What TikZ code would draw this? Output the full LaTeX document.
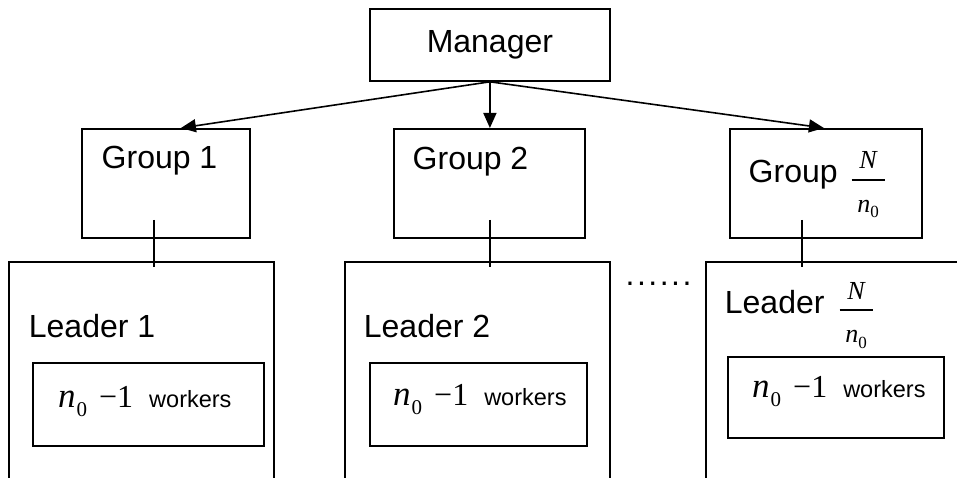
\documentclass[tikz,border=0pt]{standalone}
\usepackage{fontspec}
\setmainfont{Liberation Sans}
\newfontfamily\tms{Liberation Serif}
\usetikzlibrary{arrows.meta}

% N over n_0, set as a stacked fraction in Times-like type
\newcommand{\Nover}{%
  {\tms\fontsize{26}{26}\selectfont
   \rlap{\raisebox{14pt}{\makebox[33pt]{\itshape N}}}%
   \rlap{\rule[2.3pt]{33pt}{1.4pt}}%
   \raisebox{-29pt}{\makebox[33pt]{\itshape n\raisebox{-6pt}{\upshape\fontsize{17}{17}\selectfont 0}}}}}

% n_0 - 1
\newcommand{\nmone}{%
  {\tms\fontsize{32}{32}\selectfont{\fontsize{35}{35}\selectfont\itshape n}\hspace{1pt}\raisebox{-9pt}{\fontsize{21}{21}\selectfont 0}\hspace{12pt}−1}}

\newcommand{\wlabel}{\nmone\hspace{16pt}{\fontsize{23.5}{28}\selectfont workers}}

\begin{document}
\begin{tikzpicture}[x=1pt,y=-1pt,
  frame/.style={draw, line width=1.8pt, inner sep=0pt, anchor=north west},
  lbl/.style={inner sep=0pt, anchor=base west, font=\fontsize{32}{38}\selectfont},
  wrk/.style={inner sep=0pt, anchor=base west},
  arr/.style={line width=1.6pt, -{Triangle[length=15pt,width=13pt]}},
  link/.style={line width=1.6pt}]
\useasboundingbox (0,0) rectangle (957,478);
\clip (0,0) rectangle (957,478);

% top level
\node[frame, minimum width=240pt, minimum height=72pt,
      font=\fontsize{32}{38}\selectfont] (mgr) at (369,8) {Manager};

% groups
\node[frame, minimum width=168pt, minimum height=109pt] (g1) at (81,128) {};
\node[frame, minimum width=191pt, minimum height=109pt] (g2) at (393,128) {};
\node[frame, minimum width=192pt, minimum height=109pt] (g3) at (729,128) {};

% leader frames (open towards the bottom edge)
\node[frame, minimum width=265pt, minimum height=240pt] (l1) at (8,261) {};
\node[frame, minimum width=265pt, minimum height=240pt] (l2) at (344,261) {};
\node[frame, minimum width=270pt, minimum height=240pt] (l3) at (705,261) {};

% worker boxes
\node[frame, minimum width=231pt, minimum height=83pt] (w1) at (32,362) {};
\node[frame, minimum width=217pt, minimum height=83pt] (w2) at (369,362) {};
\node[frame, minimum width=216pt, minimum height=81pt] (w3) at (727,356) {};

% labels
\node[lbl] (g1t) at (101.5,169) {Group 1};
\node[lbl] (g2t) at (412.5,170) {Group 2};
\node[lbl] (g3t) at (748.5,183) {Group\hspace{14pt}\Nover};
\node[lbl] (l1t) at (28.7,337) {Leader 1};
\node[lbl] (l2t) at (363.7,337) {Leader 2};
\node[lbl] (l3t) at (724.7,313) {Leader\hspace{15pt}\Nover};

\node[wrk] (w1t) at (58,407) {\wlabel};
\node[wrk] (w2t) at (393,405) {\wlabel};
\node[wrk] (w3t) at (752,397) {\wlabel};

\node[wrk, font=\fontsize{32}{38}\selectfont] (dots) at (625.4,285)
  {.\kern2.5pt.\kern2.5pt.\kern2.5pt.\kern2.5pt.\kern2.5pt.};

% manager to groups
\draw[arr] (mgr.south) -- ([xshift=15pt]g1.north);
\draw[arr] (mgr.south) -- ([xshift=0.5pt]g2.north);
\draw[arr] (mgr.south) -- ([xshift=-2pt]g3.north);

% group to leader links
\coordinate (c1) at ([xshift=-12pt]g1.south);
\coordinate (c2) at ([xshift=0.5pt]g2.south);
\coordinate (c3) at ([xshift=-24pt]g3.south);
\coordinate (e1) at (c1 |- l1.north);
\coordinate (e2) at (c2 |- l2.north);
\coordinate (e3) at (c3 |- l3.north);
\draw[link] ([yshift=19pt]c1) -- ([yshift=-6pt]e1);
\draw[link] ([yshift=19pt]c2) -- ([yshift=-6pt]e2);
\draw[link] ([yshift=19pt]c3) -- ([yshift=-6pt]e3);
\end{tikzpicture}
\end{document}
